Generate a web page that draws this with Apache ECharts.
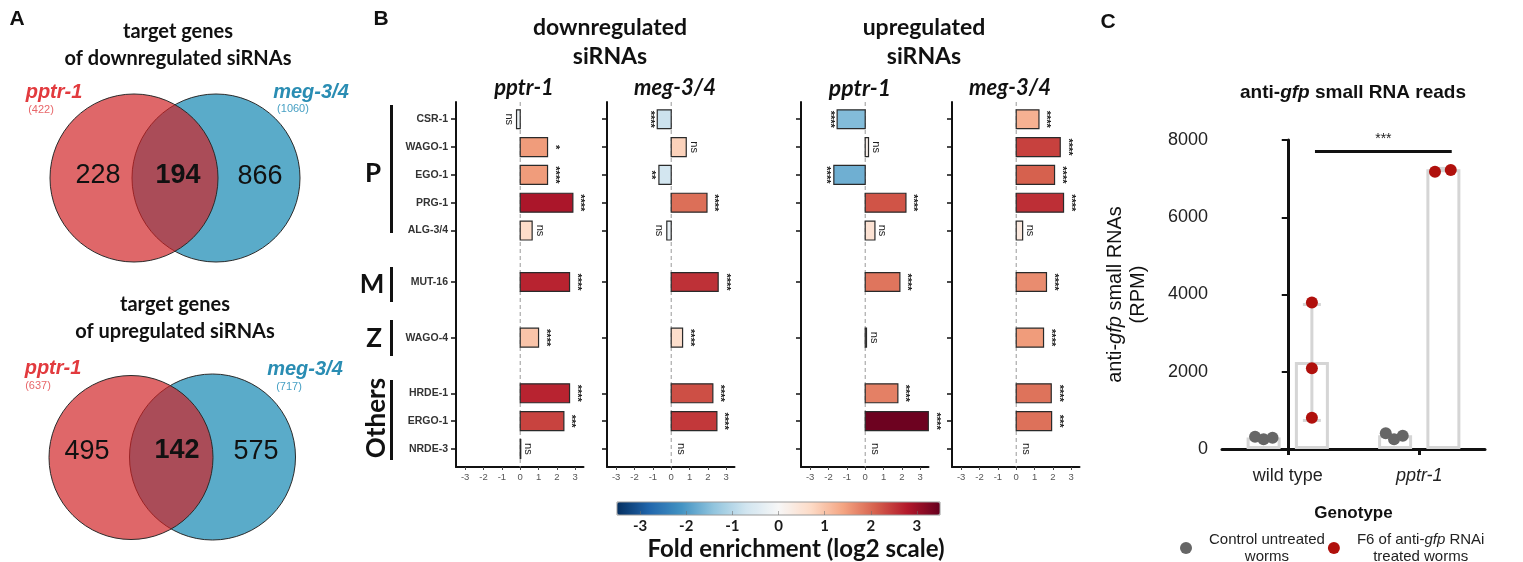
<!DOCTYPE html>
<html><head><meta charset="utf-8">
<script src="https://cdn.jsdelivr.net/npm/echarts@6/dist/echarts.min.js"></script>
<style>html,body{margin:0;padding:0;background:#fff}#c{width:1523px;height:562px}</style>
</head><body><div id="c"></div><script>
// ---------- Panel A data (Venn counts) ----------
const vennNames = ['pptr-1', 'meg-3/4'];
const vennDownTotals = [422, 1060];
const vennDownCounts = [228, 194, 866];   // only pptr-1, shared, only meg-3/4
const vennUpTotals = [637, 717];
const vennUpCounts = [495, 142, 575];

// ---------- Panel B data (log2 fold enrichment) ----------
const proteins = ['CSR-1','WAGO-1','EGO-1','PRG-1','ALG-3/4','MUT-16','WAGO-4','HRDE-1','ERGO-1','NRDE-3'];
const downPptr    = [-0.2, 1.49, 1.49, 2.87, 0.65, 2.69, 1.0, 2.69, 2.38, 0.03];
const downPptrSig = ['ns','*','****','****','ns','****','****','****','***','ns'];
const downMeg     = [-0.76, 0.82, -0.67, 1.95, -0.24, 2.56, 0.62, 2.27, 2.49, 0];
const downMegSig  = ['****','ns','**','****','ns','****','****','****','****','ns'];
const upPptr      = [-1.53, 0.18, -1.71, 2.22, 0.53, 1.89, 0.07, 1.78, 3.44, 0];
const upPptrSig   = ['****','ns','****','****','ns','****','ns','****','****','ns'];
const upMeg       = [1.24, 2.4, 2.09, 2.58, 0.35, 1.65, 1.49, 1.91, 1.93, 0];
const upMegSig    = ['****','****','****','****','ns','****','****','****','***','ns'];
const foldTicks = [-3, -2, -1, 0, 1, 2, 3];

// ---------- Panel C data (RPM) ----------
const genotypes = ['wild type', 'pptr-1'];
const ctrlBarRPM = [295, 355];
const trtBarRPM = [2250, 7240];
const ctrlDots = [[320, 250, 290], [405, 250, 345]];
const trtDots = [[3790, 2090, 810], [7180, 7225]];
const trtErrLow = [740, 7215];
const trtErrHigh = [3740, 7265];
const sigLabel = '***';
const ctrlName = 'Control untreated worms';
const trtName = 'F6 of anti-gfp RNAi treated worms';

// ---------- layout constants ----------
const ROW_SLOT = [0, 1, 2, 3, 4, 5.85, 7.85, 9.85, 10.85, 11.85];
const BAR_OFF = 0.1836;
const JIT_CTRL = [[-0.065, 0, 0.068], [-0.071, -0.008, 0.058]];
const JIT_TRT = [[0, 0, 0], [-0.064, 0.056]];
const SIG_X = [0.207, 1.247], SIG_Y = 7700;
const RDBU = ['#053061','#2166ac','#4393c3','#92c5de','#d1e5f0','#f7f7f7','#fddbc7','#f4a582','#d6604d','#b2182b','#67001f'];
const ARIAL = 'Liberation Sans', CAL = 'Lato';

const bPanels = [
  {vals: downPptr, sig: downPptrSig, left: 456},
  {vals: downMeg, sig: downMegSig, left: 607},
  {vals: upPptr, sig: upPptrSig, left: 801},
  {vals: upMeg, sig: upMegSig, left: 952}
];

const grid = [], xAxis = [], yAxis = [], series = [];
bPanels.forEach((p, i) => {
  grid.push({left: p.left, top: 102, width: 127.5, height: 365});
  xAxis.push({gridIndex: i, type: 'value', min: -3.5, max: 3.45, splitLine: {show: false},
    axisLine: {show: true, onZero: false, lineStyle: {color: '#111', width: 2}},
    axisTick: {show: true, customValues: foldTicks, length: 3, lineStyle: {color: '#444'}},
    axisLabel: {customValues: foldTicks, fontSize: 9.5, color: '#555', margin: 5, fontFamily: ARIAL}});
  yAxis.push({gridIndex: i, type: 'value', inverse: true, min: -0.62, max: 12.5, splitLine: {show: false},
    axisLine: {show: true, onZero: false, lineStyle: {color: '#111', width: 2}},
    axisTick: {show: true, customValues: ROW_SLOT, length: 5, lineStyle: {color: '#111', width: 1.5}},
    axisLabel: {show: i === 0, customValues: ROW_SLOT, margin: 8, fontFamily: ARIAL, fontWeight: 'bold', fontSize: 10.5, color: '#333',
      formatter: v => { const k = ROW_SLOT.findIndex(s => Math.abs(s - v) < 1e-6); return k >= 0 ? proteins[k] : ''; }}});
  series.push({type: 'custom', xAxisIndex: i, yAxisIndex: i, z: 3, silent: true,
    data: p.vals.map((v, k) => [v, ROW_SLOT[k]]),
    renderItem: (params, api) => {
      const v = api.value(0), slot = api.value(1);
      const s = p.sig[params.dataIndex];
      const p0 = api.coord([0, slot]), p1 = api.coord([v, slot]);
      const h = api.size([0, 0.68])[1];
      const ch = [];
      if (v !== 0) ch.push({type: 'rect', shape: {x: Math.min(p0[0], p1[0]), y: p0[1] - h / 2, width: Math.abs(p1[0] - p0[0]), height: h},
        style: {fill: api.visual('color'), stroke: '#2a2a2a', lineWidth: 1.2}});
      const neg = v < 0;
      ch.push({type: 'text', x: p1[0] + (neg ? -2 : (v === 0 ? 4 : 2)), y: p0[1], rotation: -Math.PI / 2,
        style: {text: s, fill: '#222', font: (s === 'ns' ? '11px ' : 'bold 11px ') + ARIAL, align: 'center', verticalAlign: neg ? 'top' : 'bottom'}});
      return {type: 'group', children: ch};
    }});
});
bPanels.forEach((p, i) => {
  series.push({type: 'line', xAxisIndex: i, yAxisIndex: i, z: 1, silent: true, symbol: 'none',
    data: [[0, -0.62], [0, 12.5]], lineStyle: {type: [4, 3], color: '#9a9a9a', width: 1}});
});

// colorbar axis (grid 4)
grid.push({left: 617, top: 502, width: 323, height: 13, show: true, borderColor: '#9a9a9a', borderWidth: 1, z: 10});
xAxis.push({gridIndex: 4, type: 'value', min: -3.5, max: 3.5, z: 10, splitLine: {show: false}, axisLine: {show: false},
  axisTick: {show: true, inside: true, length: 4, customValues: foldTicks, lineStyle: {color: 'rgba(110,110,110,0.55)'}},
  axisLabel: {customValues: foldTicks, fontFamily: CAL, fontWeight: 'bold', fontSize: 15, color: '#1a1a1a', margin: 4}});
yAxis.push({gridIndex: 4, type: 'value', show: false});

// panel C (grid 5)
grid.push({left: 1222, top: 140, width: 263, height: 309});
xAxis.push({gridIndex: 5, type: 'category', data: genotypes,
  axisLine: {show: true, lineStyle: {color: '#111', width: 3}},
  axisTick: {show: true, alignWithLabel: true, length: 6, lineStyle: {color: '#111', width: 3}},
  axisLabel: {fontFamily: ARIAL, fontSize: 18, color: '#222', margin: 18,
    formatter: v => v === 'pptr-1' ? '{i|pptr-1}' : v,
    rich: {i: {fontStyle: 'italic', fontFamily: ARIAL, fontSize: 18, color: '#222'}}},
  name: 'Genotype', nameLocation: 'middle', nameGap: 56,
  nameTextStyle: {fontFamily: ARIAL, fontWeight: 'bold', fontSize: 17, color: '#111'}});
xAxis.push({gridIndex: 5, type: 'value', min: -0.5, max: 1.5, show: false});
yAxis.push({gridIndex: 5, type: 'value', min: 0, max: 8000, interval: 2000, splitLine: {show: false},
  axisLine: {show: true, lineStyle: {color: '#111', width: 3}},
  axisTick: {show: true, length: 6, lineStyle: {color: '#111', width: 2}},
  axisLabel: {fontFamily: ARIAL, fontSize: 18, color: '#222', margin: 14, formatter: v => String(v)},
  name: 'anti-{i|gfp} small RNAs\n(RPM)', nameLocation: 'middle', nameGap: 72,
  nameTextStyle: {fontFamily: ARIAL, fontSize: 20, color: '#111', lineHeight: 23,
    rich: {i: {fontStyle: 'italic', fontFamily: ARIAL, fontSize: 20, color: '#111', lineHeight: 23}}}});

const barStyle = {color: 'rgba(0,0,0,0)', borderColor: '#d5d5d5', borderWidth: 3};
series.push({type: 'bar', name: 'ctrlBar', xAxisIndex: 5, yAxisIndex: 5, data: ctrlBarRPM, barWidth: 34, barGap: '42%', itemStyle: barStyle, silent: true, z: 2});
series.push({type: 'bar', name: 'trtBar', xAxisIndex: 5, yAxisIndex: 5, data: trtBarRPM, barWidth: 34, barGap: '42%', itemStyle: barStyle, silent: true, z: 2});
series.push({type: 'custom', xAxisIndex: 6, yAxisIndex: 5, z: 3, silent: true,
  data: genotypes.map((g, i) => [i + BAR_OFF, trtErrLow[i], trtErrHigh[i]]),
  renderItem: (params, api) => {
    const x = api.value(0);
    const lo = api.coord([x, api.value(1)]), hi = api.coord([x, api.value(2)]);
    const st = {stroke: '#d5d5d5', lineWidth: 3};
    return {type: 'group', children: [
      {type: 'line', shape: {x1: lo[0], y1: lo[1], x2: hi[0], y2: hi[1]}, style: st},
      {type: 'line', shape: {x1: lo[0] - 9, y1: lo[1], x2: lo[0] + 9, y2: lo[1]}, style: st},
      {type: 'line', shape: {x1: hi[0] - 9, y1: hi[1], x2: hi[0] + 9, y2: hi[1]}, style: st}]};
  }});
series.push({type: 'scatter', name: ctrlName, xAxisIndex: 6, yAxisIndex: 5, z: 4, symbolSize: 12,
  itemStyle: {color: '#666666', opacity: 1},
  data: ctrlDots.flatMap((arr, i) => arr.map((v, j) => [i - BAR_OFF + JIT_CTRL[i][j], v]))});
series.push({type: 'scatter', name: trtName, xAxisIndex: 6, yAxisIndex: 5, z: 4, symbolSize: 12,
  itemStyle: {color: '#b0100c', opacity: 1},
  data: trtDots.flatMap((arr, i) => arr.map((v, j) => [i + BAR_OFF + JIT_TRT[i][j], v]))});
series.push({type: 'custom', xAxisIndex: 6, yAxisIndex: 5, z: 3, silent: true,
  data: [[SIG_X[0], SIG_X[1], SIG_Y]],
  renderItem: (params, api) => {
    const a = api.coord([api.value(0), api.value(2)]), b = api.coord([api.value(1), api.value(2)]);
    return {type: 'group', children: [
      {type: 'line', shape: {x1: a[0], y1: a[1], x2: b[0], y2: b[1]}, style: {stroke: '#111', lineWidth: 3}},
      {type: 'text', x: (a[0] + b[0]) / 2, y: a[1] - 5, style: {text: sigLabel, font: '14px ' + ARIAL, fill: '#222', align: 'center', verticalAlign: 'bottom'}}]};
  }});

// ---------- annotations ----------
const g = [];
function T(x, y, text, font, fill, extra) {
  g.push(Object.assign({type: 'text', x, y, silent: true, style: Object.assign({text, font, fill: fill || '#111', align: 'center', verticalAlign: 'middle'}, extra && extra.style)}, extra && extra.el));
}
T(17, 19, 'A', 'bold 21px ' + ARIAL);
T(381, 19, 'B', 'bold 21px ' + ARIAL);
T(1108, 22, 'C', 'bold 21px ' + ARIAL);

function venn(cfg, counts, totals) {
  g.push({type: 'circle', silent: true, shape: {cx: cfg.bx, cy: cfg.by, r: cfg.br}, style: {fill: '#5aabc9', stroke: '#2b2b2b', lineWidth: 1}});
  g.push({type: 'circle', silent: true, shape: {cx: cfg.rx, cy: cfg.ry, r: cfg.rr}, style: {fill: 'rgba(208,31,34,0.68)', stroke: '#2b2b2b', lineWidth: 1}});
  T(cfg.t[0], cfg.t[1], 'target genes', 'bold 20px ' + CAL);
  T(cfg.t[0], cfg.t[1] + 27, cfg.title, 'bold 20px ' + CAL);
  T(cfg.n[0][0], cfg.n[0][1], String(counts[0]), '27px ' + ARIAL, '#111');
  T(cfg.n[1][0], cfg.n[1][1], String(counts[1]), 'bold 27px ' + ARIAL, '#111');
  T(cfg.n[2][0], cfg.n[2][1], String(counts[2]), '27px ' + ARIAL, '#111');
  T(cfg.l[0][0], cfg.l[0][1], vennNames[0], 'italic bold 20px ' + ARIAL, '#e23a3e');
  T(cfg.l[1][0], cfg.l[1][1], '(' + totals[0] + ')', '11px ' + ARIAL, '#e8676a');
  T(cfg.l[2][0], cfg.l[2][1], vennNames[1], 'italic bold 20px ' + ARIAL, '#2a8db3');
  T(cfg.l[3][0], cfg.l[3][1], '(' + totals[1] + ')', '11px ' + ARIAL, '#47a0c4');
}
venn({bx: 216, by: 178, br: 84, rx: 134, ry: 178, rr: 84, t: [178, 32], title: 'of downregulated siRNAs',
  n: [[98, 176], [178, 176], [260, 177]], l: [[54, 92], [41, 110], [311, 92], [293, 109]]}, vennDownCounts, vennDownTotals);
venn({bx: 212.5, by: 457, br: 83, rx: 131, ry: 457.5, rr: 82, t: [175, 305], title: 'of upregulated siRNAs',
  n: [[87, 452], [177, 451], [256, 452]], l: [[53, 368], [38, 386], [305, 369], [289, 387]]}, vennUpCounts, vennUpTotals);

// panel B headers
T(610, 28, 'downregulated', 'bold 23px ' + CAL);
T(610, 57, 'siRNAs', 'bold 23px ' + CAL);
T(924, 28, 'upregulated', 'bold 23px ' + CAL);
T(924, 57, 'siRNAs', 'bold 23px ' + CAL);
T(524, 88, 'pptr-1', 'italic bold 22px ' + CAL);
T(675, 88, 'meg-3/4', 'italic bold 22px ' + CAL);
T(860, 89, 'pptr-1', 'italic bold 23px ' + CAL);
T(1010, 88, 'meg-3/4', 'italic bold 22px ' + CAL);
// group brackets
T(373, 174, 'P', 'bold 26px ' + CAL);
T(372, 285, 'M', 'bold 26px ' + CAL);
T(374, 339, 'Z', 'bold 26px ' + CAL);
T(377, 418, 'Others', 'bold 26px ' + CAL, '#111', {el: {rotation: Math.PI / 2}});
[[105, 128], [267, 35], [320, 36], [380, 80]].forEach(r => g.push({type: 'rect', silent: true, shape: {x: 390, y: r[0], width: 3, height: r[1]}, style: {fill: '#111'}}));
// colorbar title
T(796, 549, 'Fold enrichment (log2 scale)', 'bold 24px ' + CAL);
// panel C title
T(1353, 93, 'anti-{i|gfp} small RNA reads', 'bold 19px ' + ARIAL, '#111', {style: {rich: {i: {font: 'italic bold 19px ' + ARIAL, fill: '#111'}}}});

const chart = echarts.init(document.getElementById('c'), null, {renderer: 'canvas', width: 1523, height: 562});
chart.setOption({
  animation: false,
  backgroundColor: '#fff',
  grid, xAxis, yAxis, series,
  visualMap: [{type: 'continuous', min: -3.5, max: 3.5, dimension: 0, seriesIndex: [0, 1, 2, 3], orient: 'horizontal',
    left: 617, top: 502, itemWidth: 13, itemHeight: 323, calculable: false, hoverLink: false, padding: 0,
    inRange: {color: RDBU}}],
  legend: {left: 1180, top: 531, padding: 0, itemWidth: 36, itemHeight: 12, itemGap: 3, icon: 'circle',
    data: [ctrlName, trtName],
    formatter: n => n === ctrlName ? '{c|Control untreated}\n{c|worms}' : '{c|F6 of anti-}{ci|gfp}{c| RNAi}\n{c|treated worms}',
    textStyle: {fontFamily: ARIAL, fontSize: 15, color: '#222', lineHeight: 17,
      rich: {c: {align: 'center', fontFamily: ARIAL, fontSize: 15, color: '#222', lineHeight: 17},
             ci: {align: 'center', fontFamily: ARIAL, fontStyle: 'italic', fontSize: 15, color: '#222', lineHeight: 17}}}},
  graphic: g
});
</script></body></html>
